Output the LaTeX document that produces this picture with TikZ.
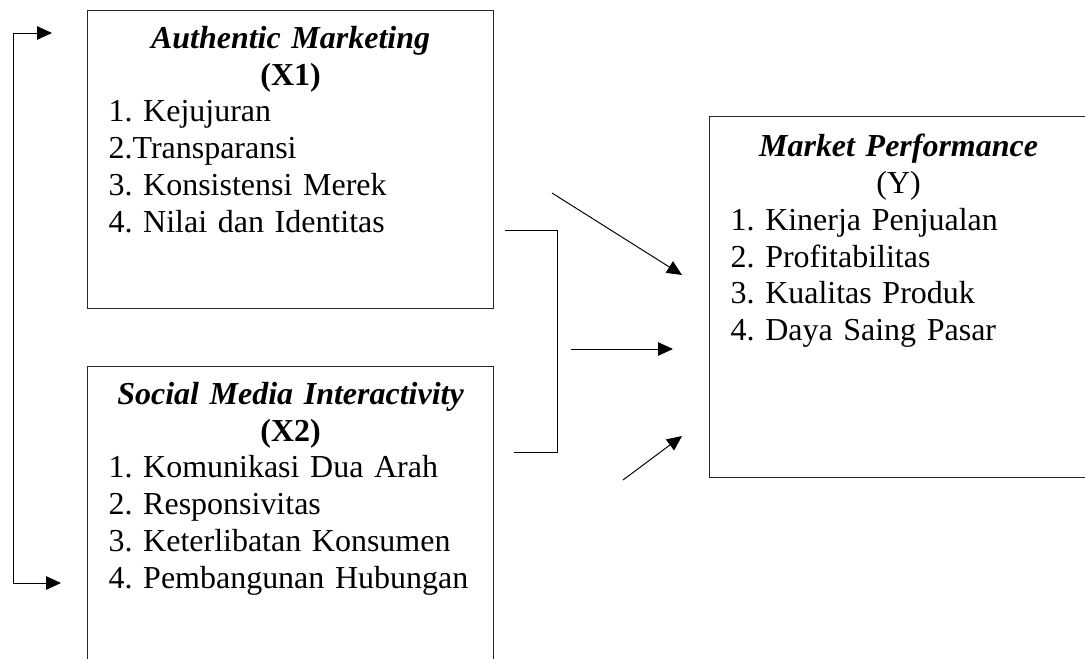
\documentclass[tikz,border=0pt]{standalone}
\usepackage{fontspec}
\setmainfont{Liberation Serif}
\usetikzlibrary{positioning,arrows.meta}

\tikzset{
  kotak/.style={draw=black!85, line width=0.7pt, anchor=north west, inner sep=0pt},
  isi/.style={anchor=north, inner sep=0pt, align=left,
    font=\fontsize{18.2}{20.9}\selectfont\frenchspacing},
  panah/.style={-{Triangle[length=0.3cm,width=0.27cm]}, line width=0.55pt},
  garis/.style={line width=0.55pt}
}

\begin{document}
\begin{tikzpicture}[x=0.02cm,y=-0.02cm]
  \useasboundingbox (0,0) rectangle (1085,659);
  \clip (0,0) rectangle (1085,659);

  % kotak variabel
  \node[kotak, minimum width=8.12cm, minimum height=5.96cm] (x1) at (87,10) {};
  \node[kotak, minimum width=8.12cm, minimum height=6.8cm] (x2) at (87,366) {};
  \node[kotak, minimum width=7.56cm, minimum height=7.22cm] (y) at (709,116) {};

  % isi kotak
  \node[isi, text width=7.28cm, below=0.32cm of x1.north] (tx1) {%
    {\centering\textbf{\textit{Authentic Marketing}}\\\textbf{(X1)}\par}
    1. Kejujuran\\
    2.Transparansi\\
    3. Konsistensi Merek\\
    4. Nilai dan Identitas};
  \node[isi, text width=7.28cm, below=0.32cm of x2.north] (tx2) {%
    {\centering\textbf{\textit{Social Media Interactivity}}\\\textbf{(X2)}\par}
    1. Komunikasi Dua Arah\\
    2. Responsivitas\\
    3. Keterlibatan Konsumen\\
    4. Pembangunan Hubungan};
  \node[isi, text width=6.72cm, below=0.36cm of y.north] (ty) {%
    {\centering\textbf{\textit{Market Performance}}\\(Y)\par}
    1. Kinerja Penjualan\\
    2. Profitabilitas\\
    3. Kualitas Produk\\
    4. Daya Saing Pasar};

  % titik ujung panah
  \coordinate (kurungA) at (505,230);
  \coordinate (kurungB) at (514,452);
  \coordinate (p1a) at (552,193);
  \coordinate (p1b) at (682,275);
  \coordinate (p2a) at (571,349);
  \coordinate (p2b) at (673,349);
  \coordinate (p3a) at (623,480);
  \coordinate (p3b) at (682,436);
  \coordinate (balikA) at (52,33);
  \coordinate (balikB) at (61,583);

  \draw[garis] (kurungA) -- ++(52,0) |- (kurungB);
  \draw[panah] (p1a) -- (p1b);
  \draw[panah] (p2a) -- (p2b);
  \draw[panah] (p3a) -- (p3b);
  \draw[panah, {Triangle[length=0.3cm,width=0.27cm]}-{Triangle[length=0.3cm,width=0.27cm]}]
    (balikA) -- ++(-39,0) |- (balikB);
\end{tikzpicture}
\end{document}
